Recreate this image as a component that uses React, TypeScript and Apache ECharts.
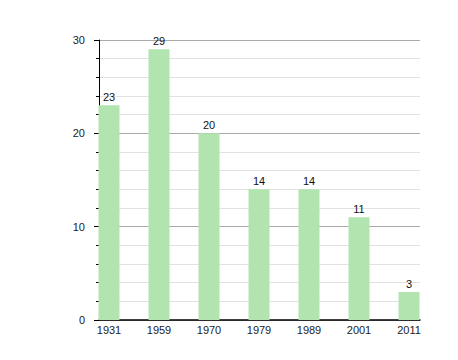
import React, { useEffect, useRef } from "react";
import * as echarts from "echarts";

const years = ["1931", "1959", "1970", "1979", "1989", "2001", "2011"];
const values = [23, 29, 20, 14, 14, 11, 3];
const positions = [0.2, 1.2, 2.2, 3.2, 4.2, 5.2, 6.2];

export default function App() {
  const ref = useRef<HTMLDivElement>(null);
  useEffect(() => {
    if (!ref.current) return;
    const chart = echarts.init(ref.current, null, { renderer: "svg" });
    const font = "'Liberation Sans', Arial, sans-serif";
    chart.setOption({
      animation: false,
      grid: { left: 99, top: 40, width: 321, height: 280 },
      xAxis: {
        type: "value",
        min: 0,
        max: 6.42,
        splitLine: { show: false },
        axisTick: { show: false },
        axisLine: { show: true, lineStyle: { color: "#000", width: 1.5 } },
        axisLabel: {
          customValues: positions,
          formatter: (v: number) => years[Math.round(v - 0.2)] ?? "",
          color: "#222",
          fontSize: 11,
          fontFamily: font,
          margin: 4,
        },
      },
      yAxis: {
        type: "value",
        min: 0,
        max: 30,
        interval: 10,
        axisLine: { show: true, lineStyle: { color: "#000", width: 1 } },
        axisTick: { show: true, length: 5, lineStyle: { color: "#000" } },
        minorTick: { show: true, splitNumber: 5, length: 3, lineStyle: { color: "#000" } },
        splitLine: { show: true, lineStyle: { color: "#aaa", width: 1 } },
        minorSplitLine: { show: true, lineStyle: { color: "#e2e2e2", width: 1 } },
        axisLabel: {
          color: "#222",
          fontSize: 11,
          fontFamily: font,
          margin: 14,
        },
      },
      series: [
        {
          type: "bar",
          barWidth: 21,
          data: positions.map((p, i) => [p, values[i]]),
          itemStyle: { color: "#b2e4b0" },
          label: {
            show: true,
            position: "top",
            distance: 3,
            color: "#111",
            fontSize: 11,
            fontFamily: font,
            formatter: (p: any) => String(p.value[1]),
          },
        },
      ],
    });
    return () => chart.dispose();
  }, []);
  return (
    <div
      ref={ref}
      style={{ position: "fixed", left: 0, top: 0, width: 458, height: 360, background: "#fff" }}
    />
  );
}
